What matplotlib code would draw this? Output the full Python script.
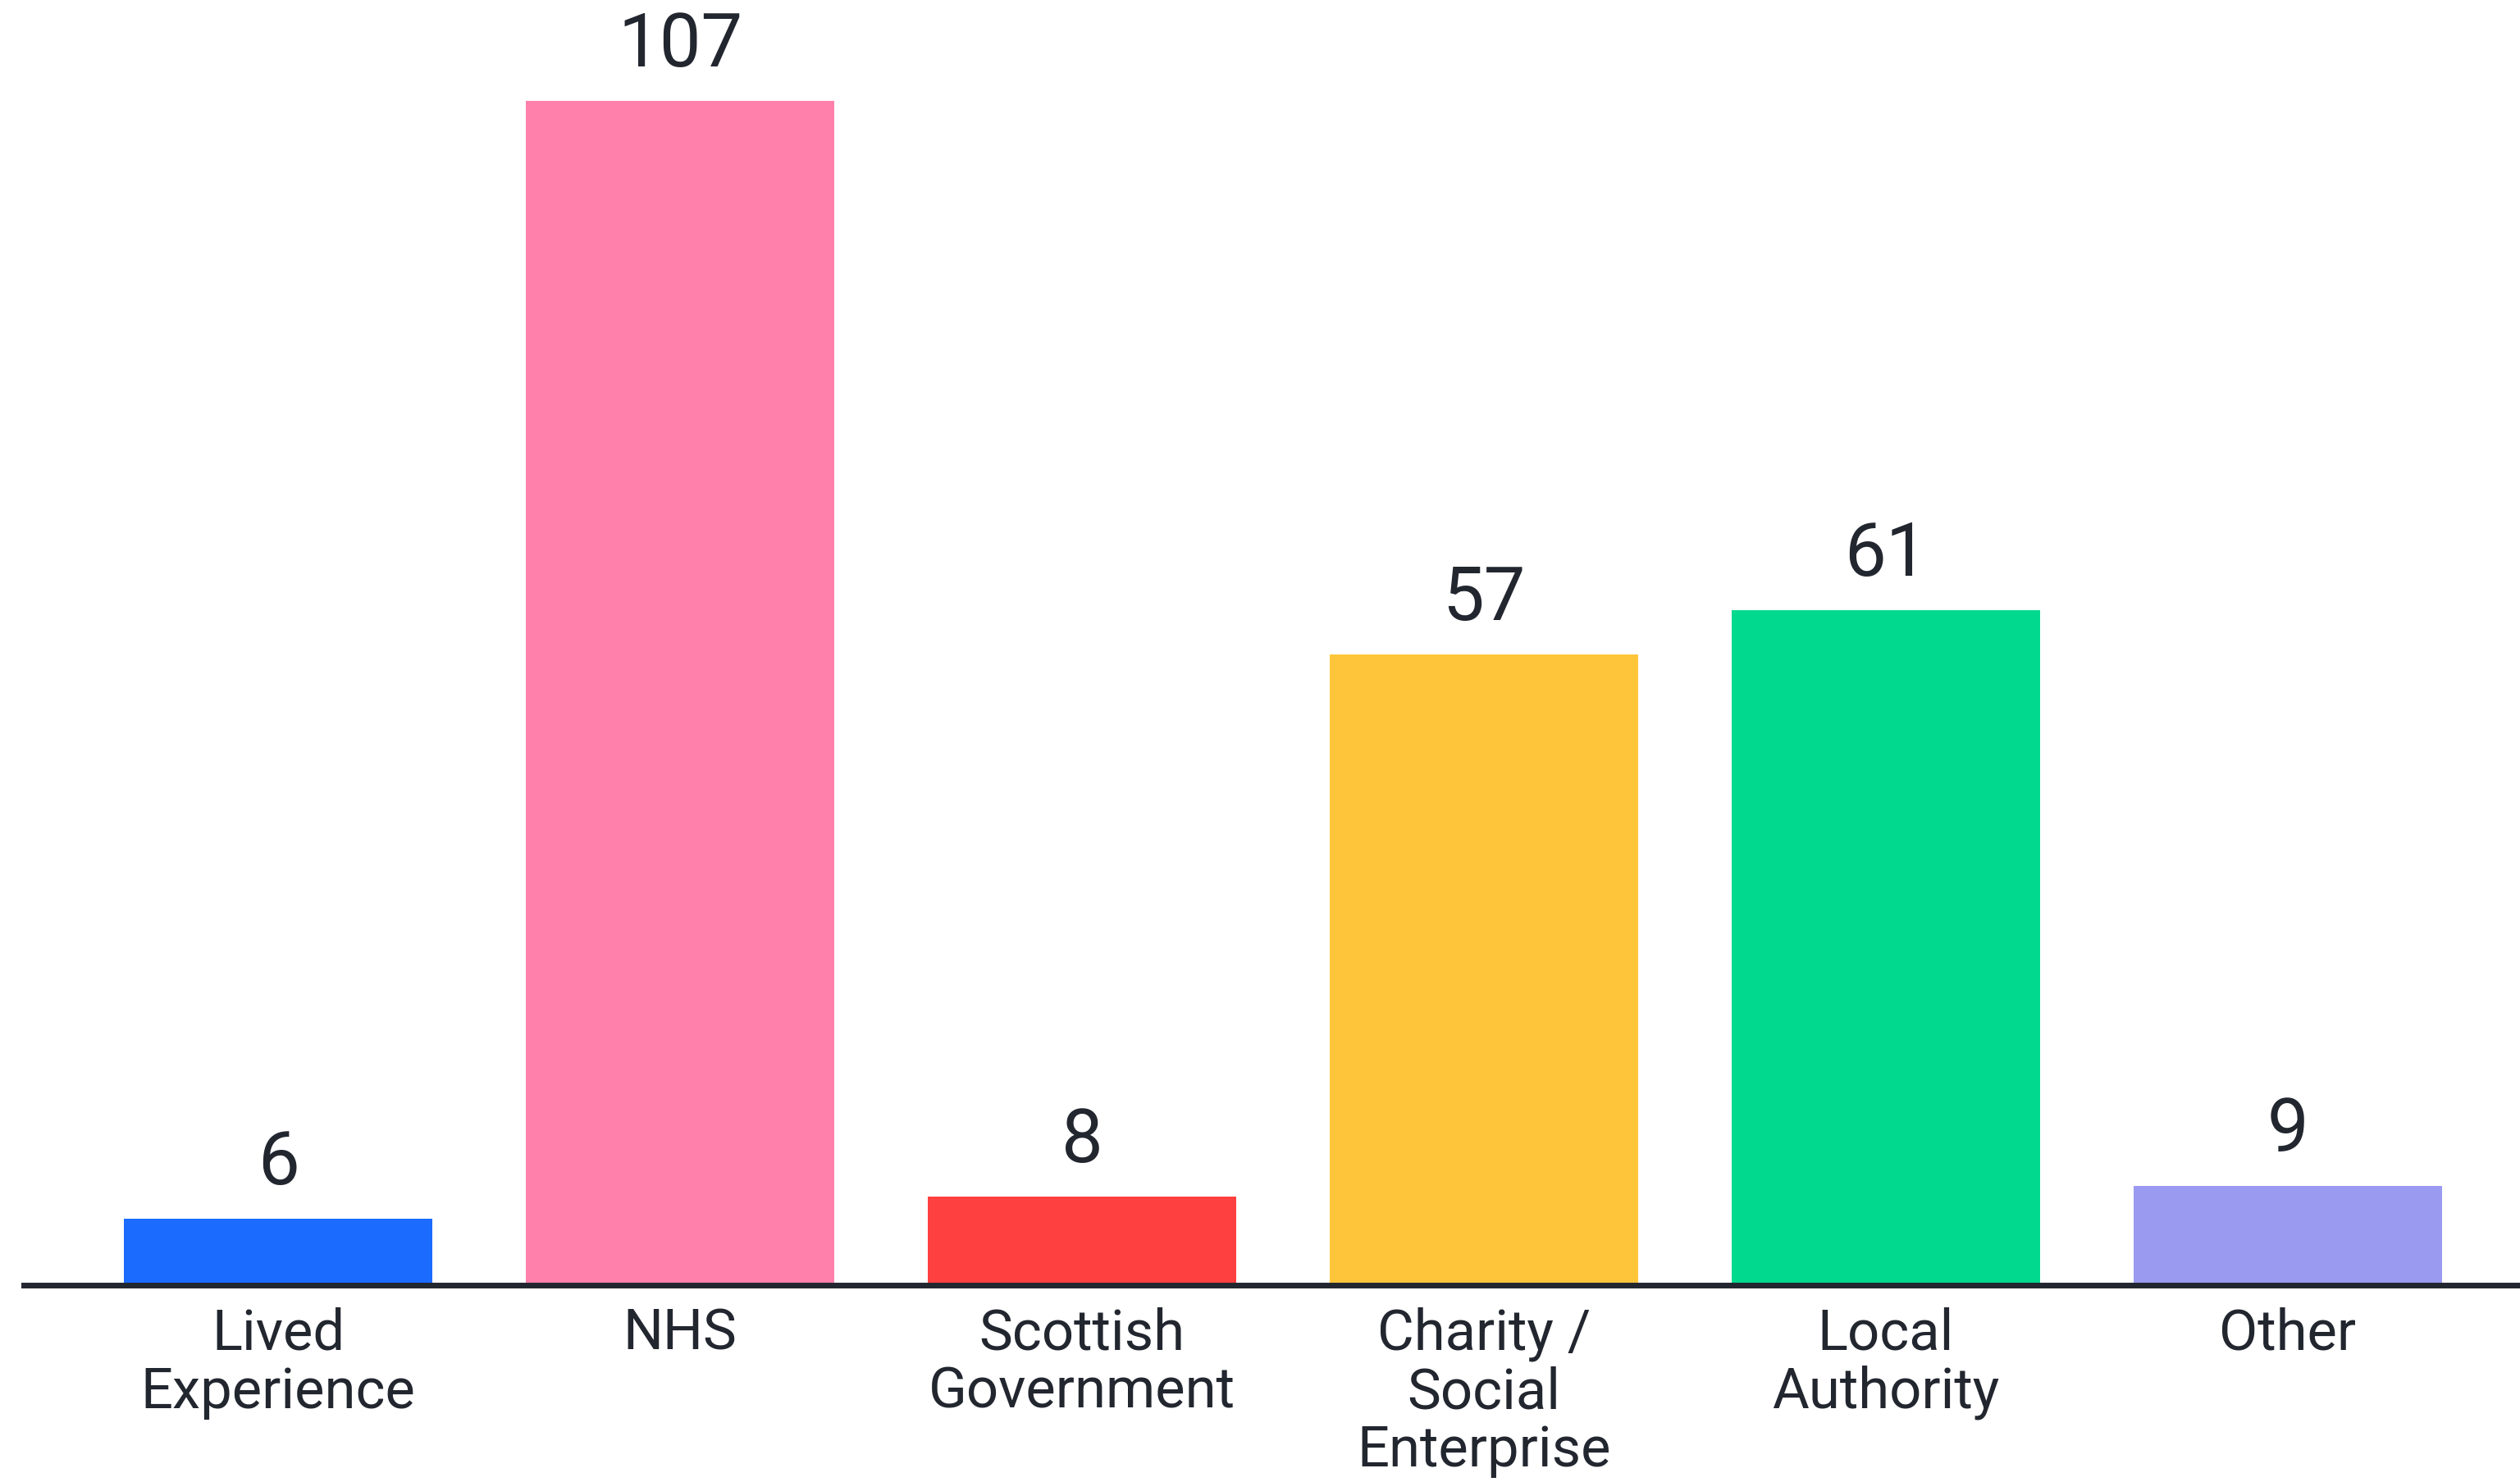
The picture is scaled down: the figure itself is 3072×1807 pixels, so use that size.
import matplotlib.pyplot as plt

categories = ['Lived\nExperience', 'NHS', 'Scottish\nGovernment',
              'Charity /\nSocial\nEnterprise', 'Local\nAuthority', 'Other']
values = [6, 107, 8, 57, 61, 9]
colours = ['#1B6BFF', '#FF80AA', '#FF4040', '#FFC53A', '#00D98E', '#9A9AF0']

ink = '#22262F'
plt.rcParams['font.family'] = ['Roboto', 'DejaVu Sans']

fig = plt.figure(figsize=(30.72, 18.07), dpi=100)
ax = fig.add_axes([29 / 3072, 240 / 1807, 1 - 29 / 3072, 1 - 240 / 1807])

x = range(len(values))
bars = ax.bar(x, values, width=0.768, color=colours, zorder=2)

for b, v in zip(bars, values):
    ax.annotate(str(v), (b.get_x() + b.get_width() / 2, v),
                xytext=(0, 30), textcoords='offset points',
                ha='center', va='baseline', fontsize=65, color=ink)

ax.set_xlim(-0.633, 5.578)
ax.set_ylim(0, 116.1)
ax.set_xticks(list(x))
ax.set_xticklabels(categories, fontsize=49.5, color=ink, linespacing=1.1)
ax.tick_params(axis='x', length=0, pad=19)
ax.set_yticks([])

for s in ['top', 'left', 'right']:
    ax.spines[s].set_visible(False)
ax.spines['bottom'].set_linewidth(5)
ax.spines['bottom'].set_color(ink)
ax.spines['bottom'].set_zorder(3)

fig.savefig('out.png', dpi=100)
